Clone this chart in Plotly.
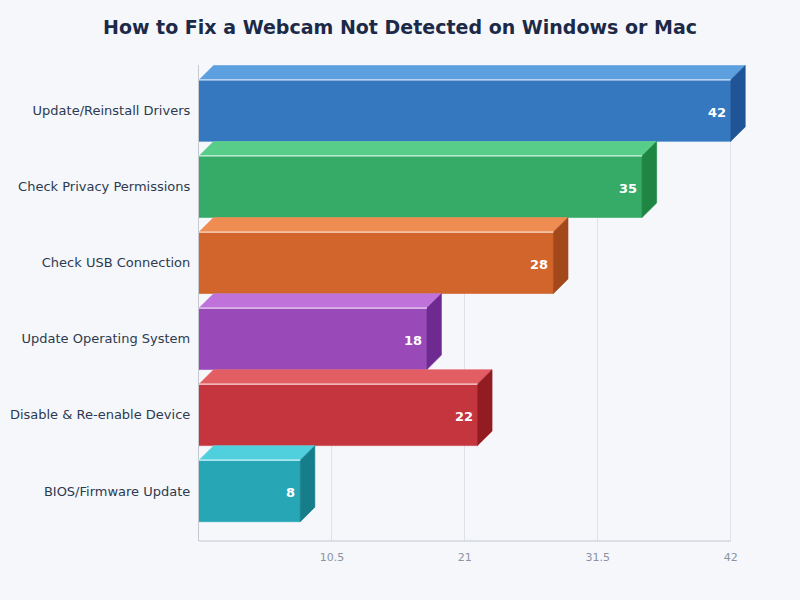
import plotly.graph_objects as go

# data, top row first
categories = [
    "Update/Reinstall Drivers",
    "Check Privacy Permissions",
    "Check USB Connection",
    "Update Operating System",
    "Disable & Re-enable Device",
    "BIOS/Firmware Update",
]
values = [42, 35, 28, 18, 22, 8]
x_ticks = [10.5, 21, 31.5, 42]

# front / top / side shades per bar
front_colors = ["#3578BF", "#35AB67", "#D2652C", "#9A4AB8", "#C4353D", "#27A6B5"]
top_colors = ["#5CA0E0", "#57CD89", "#EE8C52", "#BE72DA", "#E35E63", "#50D0DD"]
side_colors = ["#1F5596", "#1E8543", "#A3481A", "#6E2A90", "#931C22", "#167E8A"]

BG = "#f5f7fb"
HALF = 0.404   # half bar height, in category steps
DX = 1.15      # depth along x, in value units
DY = 0.19      # depth along y, in category steps


def add_box(fig, pos, val, front, top, side):
    y_top = pos - HALF
    y_bot = pos + HALF
    faces = [
        ([0, val, val, 0, 0], [y_top, y_top, y_bot, y_bot, y_top], front),
        ([0, val, val + DX, DX, 0], [y_top, y_top, y_top - DY, y_top - DY, y_top], top),
        ([val, val + DX, val + DX, val, val],
         [y_top, y_top - DY, y_bot - DY, y_bot, y_top], side),
    ]
    for xs, ys, col in faces:
        fig.add_trace(go.Scatter(
            x=xs, y=ys, fill="toself", fillcolor=col, mode="lines",
            line=dict(color=col, width=0.6), hoverinfo="skip", showlegend=False,
        ))
    # light edge between front and top
    fig.add_trace(go.Scatter(
        x=[0, val], y=[y_top, y_top], mode="lines",
        line=dict(color="rgba(255,255,255,0.75)", width=1.2),
        hoverinfo="skip", showlegend=False,
    ))


fig = go.Figure()
positions = list(range(len(categories)))
for i, v in enumerate(values):
    add_box(fig, positions[i], v, front_colors[i], top_colors[i], side_colors[i])
    fig.add_annotation(
        x=v, y=positions[i], text="<b>%d</b>" % v, showarrow=False,
        xanchor="right", xshift=-3, yshift=-2,
        font=dict(family="DejaVu Sans", size=13, color="#ffffff"),
    )

# bottom axis line only up to the last tick
fig.add_shape(type="line", xref="x", yref="paper", x0=0, x1=max(x_ticks), y0=0, y1=0,
              line=dict(color="#c4c9d2", width=1.2))

fig.update_layout(
    width=800, height=600,
    paper_bgcolor=BG, plot_bgcolor=BG,
    margin=dict(l=199, r=44, t=65, b=59),
    title=dict(
        text="<b>How to Fix a Webcam Not Detected on Windows or Mac</b>",
        x=0.5, xanchor="center", y=1 - 27 / 600, yanchor="middle", yref="container",
        font=dict(family="DejaVu Sans", size=19, color="#1c2a48"),
    ),
    xaxis=dict(
        range=[0, 44], tickvals=x_ticks, ticktext=[str(t) for t in x_ticks],
        showgrid=True, gridcolor="#dfe3e9", gridwidth=1, zeroline=False, showline=False,
        ticks="outside", ticklen=6, tickcolor="rgba(0,0,0,0)", automargin=False,
        tickfont=dict(family="DejaVu Sans", size=11, color="#8a93a3"),
    ),
    yaxis=dict(
        range=[len(categories) - 1 + 0.658, -0.6], tickvals=positions, ticktext=categories,
        showgrid=False, zeroline=False, showline=True, linecolor="#c4c9d2", linewidth=1.2,
        ticks="outside", ticklen=5, tickcolor="rgba(0,0,0,0)", automargin=False,
        tickfont=dict(family="DejaVu Sans", size=13, color="#2d3a4f"),
    ),
)

fig.write_html(
    "out.html",
    config={"displayModeBar": False},
    post_script="document.body.style.margin='0';document.body.style.background='%s';" % BG,
)
